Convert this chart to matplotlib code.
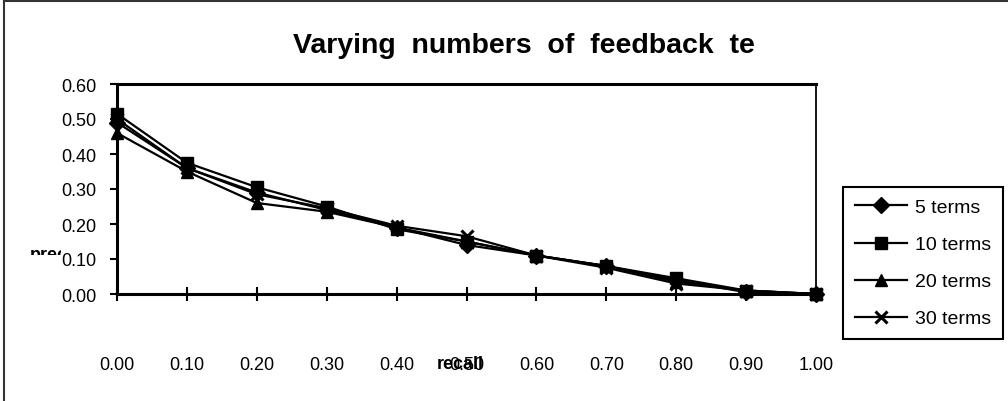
import matplotlib
matplotlib.use("Agg")
import matplotlib.pyplot as plt
from matplotlib.lines import Line2D
from matplotlib.transforms import Bbox

plt.rcParams['font.family'] = ['Liberation Sans', 'DejaVu Sans']

recall = [0.0, 0.1, 0.2, 0.3, 0.4, 0.5, 0.6, 0.7, 0.8, 0.9, 1.0]
terms5 = [0.49, 0.36, 0.29, 0.24, 0.19, 0.14, 0.11, 0.08, 0.04, 0.005, 0.0]
terms10 = [0.515, 0.375, 0.305, 0.25, 0.185, 0.15, 0.11, 0.08, 0.045, 0.01, 0.0]
terms20 = [0.46, 0.35, 0.26, 0.235, 0.19, 0.15, 0.11, 0.08, 0.035, 0.01, 0.0]
terms30 = [0.50, 0.36, 0.285, 0.245, 0.195, 0.165, 0.11, 0.075, 0.03, 0.01, 0.0]
series_labels = ['5 terms', '10 terms', '20 terms', '30 terms']
x_ticks = [0.0, 0.1, 0.2, 0.3, 0.4, 0.5, 0.6, 0.7, 0.8, 0.9, 1.0]
y_ticks = [0.0, 0.1, 0.2, 0.3, 0.4, 0.5, 0.6]

W, H = 1008, 402
fig = plt.figure(figsize=(W / 100, H / 100), dpi=100)
fig.patch.set_facecolor('white')


def fx(px):
    return px / W


def fy(py):
    return 1 - py / H


ax = fig.add_axes([fx(117), fy(295), fx(816) - fx(117), fy(85) - fy(295)])

markers = [('D', 8), ('s', 8), ('^', 9), ('x', 9)]
handles = []
for vals, lab, (m, ms) in zip([terms5, terms10, terms20, terms30], series_labels, markers):
    h, = ax.plot(recall, vals, color='black', lw=1.6, marker=m, ms=ms,
                 mfc='black', mec='black', mew=2.2 if m == 'x' else 1, label=lab,
                 clip_on=False)
    handles.append(h)

ax.set_xlim(0, 1)
ax.set_ylim(0, 0.6)
ax.set_xticks(x_ticks)
ax.set_xticklabels([f"{v:.2f}" for v in x_ticks])
ax.set_yticks(y_ticks)
ax.set_yticklabels([f"{v:.2f}" for v in y_ticks])
ax.tick_params(axis='x', direction='inout', length=10, width=1.5, pad=40,
               labelsize=13, colors='black')
ax.tick_params(axis='y', direction='out', length=5, width=1.5, pad=10,
               labelsize=13, colors='black')
for s in ['left', 'bottom', 'top']:
    ax.spines[s].set_linewidth(2.2)
    ax.spines[s].set_color('black')
ax.spines['right'].set_linewidth(1.3)
ax.spines['right'].set_color('black')

# title
fig.text(fx(524), fy(46), 'Varying  numbers  of  feedback  te', ha='center', va='center',
         fontsize=20.5, fontweight='bold')

# x label
fig.text(fx(460), fy(365), 'recall', ha='center', va='center', fontsize=13,
         fontweight='bold')

# clipped y label
t = fig.text(fx(30), fy(260), 'precision', ha='left', va='baseline', fontsize=13,
             fontweight='bold')
t.set_clip_box(Bbox.from_extents(30, H - 256, 61, H - 245))
t.set_clip_on(True)

# legend
leg = fig.legend(handles=handles, labels=series_labels, loc='upper left',
                 bbox_to_anchor=(fx(843), fy(188)), fontsize=14,
                 frameon=True, fancybox=False, edgecolor='black', framealpha=1,
                 handlelength=2.7, handletextpad=0.4, labelspacing=1.0,
                 borderpad=0.6, borderaxespad=0)
leg.get_frame().set_linewidth(1.5)

# outer chart border
fig.add_artist(Line2D([fx(4), fx(4)], [fy(2), fy(405)], color='#333333', lw=1.5,
                      transform=fig.transFigure))
fig.add_artist(Line2D([fx(4), fx(1010)], [fy(2), fy(2)], color='#333333', lw=1.5,
                      transform=fig.transFigure))

fig.savefig('out.png', dpi=100)
